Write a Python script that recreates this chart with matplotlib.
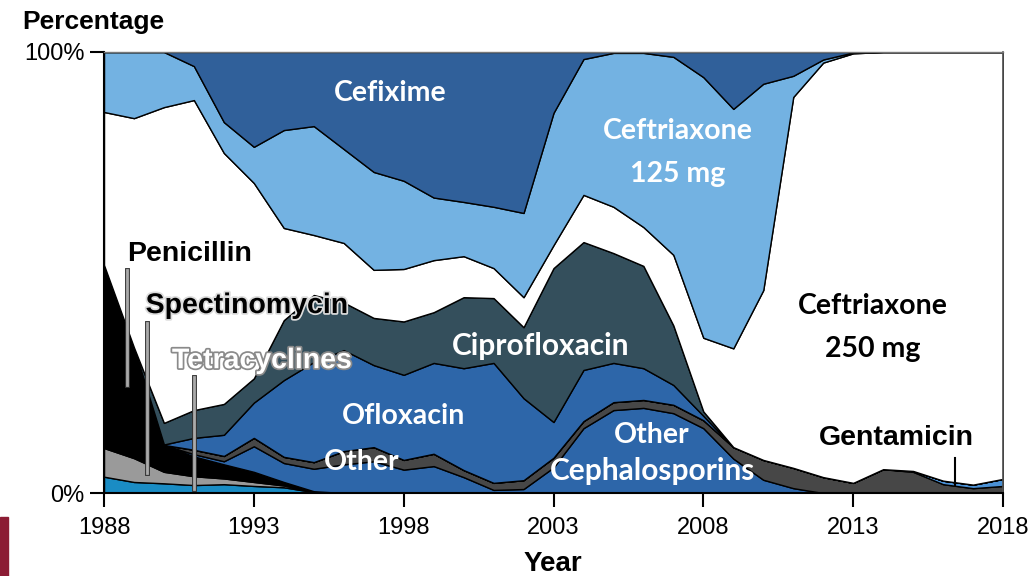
import matplotlib
matplotlib.use('Agg')
import matplotlib.pyplot as plt
import matplotlib.patheffects as pe
from matplotlib.patches import Rectangle

years = list(range(1988, 2019))
tetracyclines = [3.7, 2.5, 2.2, 1.8, 2.0, 1.6, 1.3, 0.2] + [0] * 23
spectinomycin = [6.5, 5.4, 2.6, 2.0, 1.3, 0.9, 0.4, 0.1] + [0] * 23
penicillin = [41.5, 25.1, 6.1, 4.5, 3.2, 2.3, 0.8, 0.1] + [0] * 23
other_cephalosporins = [0, 0, 0, 0.5, 0.7, 5.8, 4.3, 5.1, 6.5, 7.2, 5.3, 6.1, 3.6, 0.7, 0.9, 5.8,
                        14.7, 18.8, 19.3, 18.1, 14.7, 7.8, 3.0, 1.1, 0, 0, 0, 0, 0, 0, 0]
other = [0, 0, 0, 1.0, 1.2, 1.9, 1.4, 1.5, 3.0, 3.2, 2.2, 2.8, 1.6, 1.6, 2.0, 2.2,
         1.6, 1.8, 1.8, 1.9, 1.8, 2.6, 4.5, 4.6, 3.6, 2.3, 5.4, 4.8, 2.0, 1.1, 1.6]
gentamicin = [0] * 27 + [0.2, 0.8, 0.8, 1.6]
ofloxacin = [0, 0, 0.1, 2.7, 4.8, 8.0, 17.4, 22.7, 22.9, 18.6, 19.3, 20.6, 23.1, 27.2, 18.6, 8.1,
             11.6, 8.9, 7.2, 4.5, 1.0] + [0] * 10
ciprofloxacin = [0, 0, 4.9, 6.3, 7.0, 5.5, 13.6, 15.2, 10.8, 10.7, 12.1, 11.5, 16.1, 14.7, 16.1, 34.9,
                 29.0, 24.9, 23.2, 13.5, 1.0] + [0] * 10
ceftriaxone_250 = [34.7, 52.0, 71.6, 70.3, 56.9, 44.3, 20.9, 13.6, 13.5, 10.9, 11.9, 11.8, 9.3, 6.8, 6.8,
                   5.2, 10.7, 10.5, 8.8, 16.0, 16.7, 22.4, 38.5, 84.1, 94.0, 97.4, 94.6, 95.0, 97.2, 98.1, 96.8]
ceftriaxone_125 = [13.6, 15.0, 12.5, 7.7, 7.0, 8.2, 22.2, 24.7, 21.3, 22.2, 20.0, 14.2, 12.3, 13.9, 19.1,
                   30.0, 30.8, 34.9, 39.5, 44.9, 59.1, 54.3, 46.8, 4.8, 0.7, 0.2, 0, 0, 0, 0, 0]
cefixime = [0, 0, 0, 3.2, 15.9, 21.5, 17.7, 16.8, 22.0, 27.2, 29.2, 33.0, 34.0, 35.1, 36.5, 13.8,
            1.6, 0.2, 0.2, 1.1, 5.7, 12.9, 7.2, 5.4, 1.7, 0.1, 0, 0, 0, 0, 0]

x_ticks = [1988, 1993, 1998, 2003, 2008, 2013, 2018]

series = [tetracyclines, spectinomycin, penicillin, other_cephalosporins, other, gentamicin,
          ofloxacin, ciprofloxacin, ceftriaxone_250, ceftriaxone_125, cefixime]
colors = ['#1a8cc4', '#9a9a9a', '#000000', '#2d66a9', '#474747', '#4a90d4',
          '#2d66a9', '#344f5c', '#ffffff', '#73b2e2', '#30609a']

AX = 'Liberation Sans'
CAL = 'Lato'

fig = plt.figure(figsize=(10.35, 5.76), dpi=100)
ax = fig.add_axes([104 / 1035, 1 - 493 / 576, (1003 - 104) / 1035, (493 - 52) / 576])
ax.stackplot(years, *series, colors=colors, edgecolor='black', linewidth=1.0)

ax.set_xlim(1988, 2018)
ax.set_ylim(0, 100)
ax.set_xticks(x_ticks)
ax.set_xticklabels([str(t) for t in x_ticks], fontfamily=AX)
ax.set_yticks([0, 100])
ax.set_yticklabels(['0%', '100%'], fontfamily=AX)
ax.tick_params(axis='both', direction='out', length=10, width=1.5, labelsize=17, color='black')
ax.tick_params(axis='x', pad=7)
ax.tick_params(axis='y', pad=4)
for s in ['left', 'bottom']:
    ax.spines[s].set_linewidth(1.5)
    ax.spines[s].set_color('black')
ax.spines['top'].set_color('#777777')
ax.spines['top'].set_linewidth(1.0)
ax.spines['right'].set_color('#555555')
ax.spines['right'].set_linewidth(1.2)
ax.set_zorder(1)

fig.text(22 / 1035, 1 - 29 / 576, 'Percentage', fontfamily=AX, fontweight='bold', fontsize=19,
         ha='left', va='baseline')
fig.text(553 / 1035, 1 - 571 / 576, 'Year', fontfamily=AX, fontweight='bold', fontsize=20,
         ha='center', va='baseline')

fig.patches.append(Rectangle((0, 0), 8 / 1035, 59 / 576, transform=fig.transFigure,
                             color='#8c1c34', zorder=5))

def lab(x, y, s, color='white', size=20.5, family=CAL, **kw):
    ax.text(x, y, s, color=color, fontsize=size, fontfamily=family, fontweight='bold',
            ha='center', va='baseline', zorder=10, **kw)

lab(1997.54, 88.9, 'Cefixime')
lab(2007.15, 80.3, 'Ceftriaxone')
lab(2007.15, 70.5, '125 mg')
lab(2013.66, 40.6, 'Ceftriaxone', color='black')
lab(2013.66, 30.8, '250 mg', color='black')
lab(2002.58, 31.3, 'Ciprofloxacin', size=21.5)
lab(1998.01, 15.6, 'Ofloxacin')
lab(1996.61, 5.2, 'Other')
lab(2006.29, 11.3, 'Other')
lab(2006.29, 2.9, 'Cephalosporins', size=21.5)
lab(2014.43, 10.9, 'Gentamicin', color='black', size=20.5, family=AX)
lab(1990.84, 52.6, 'Penicillin', color='black', size=20.5, family=AX)
lab(1992.77, 40.8, 'Spectinomycin', color='black', size=20.5, family=AX,
    path_effects=[pe.withStroke(linewidth=2.5, foreground='#dddddd')])
lab(1993.27, 28.3, 'Tetracyclines', color='white', size=20.5, family=AX,
    path_effects=[pe.withStroke(linewidth=2.5, foreground='#8a8a8a')])

leader = [pe.Stroke(linewidth=3.5, foreground='#333333'), pe.Normal()]
ax.plot([1988.77, 1988.77], [50.6, 24.5], color='#aaaaaa', lw=2, zorder=9, path_effects=leader)
ax.plot([1989.43, 1989.43], [38.5, 4.5], color='#aaaaaa', lw=2, zorder=9, path_effects=leader)
ax.plot([1991.0, 1991.0], [26.3, 1.0], color='#aaaaaa', lw=2, zorder=9, path_effects=leader)
ax.plot([2016.4, 2016.4], [7.9, 1.8], color='black', lw=1.5, zorder=9)

fig.savefig('out.png', dpi=100)
